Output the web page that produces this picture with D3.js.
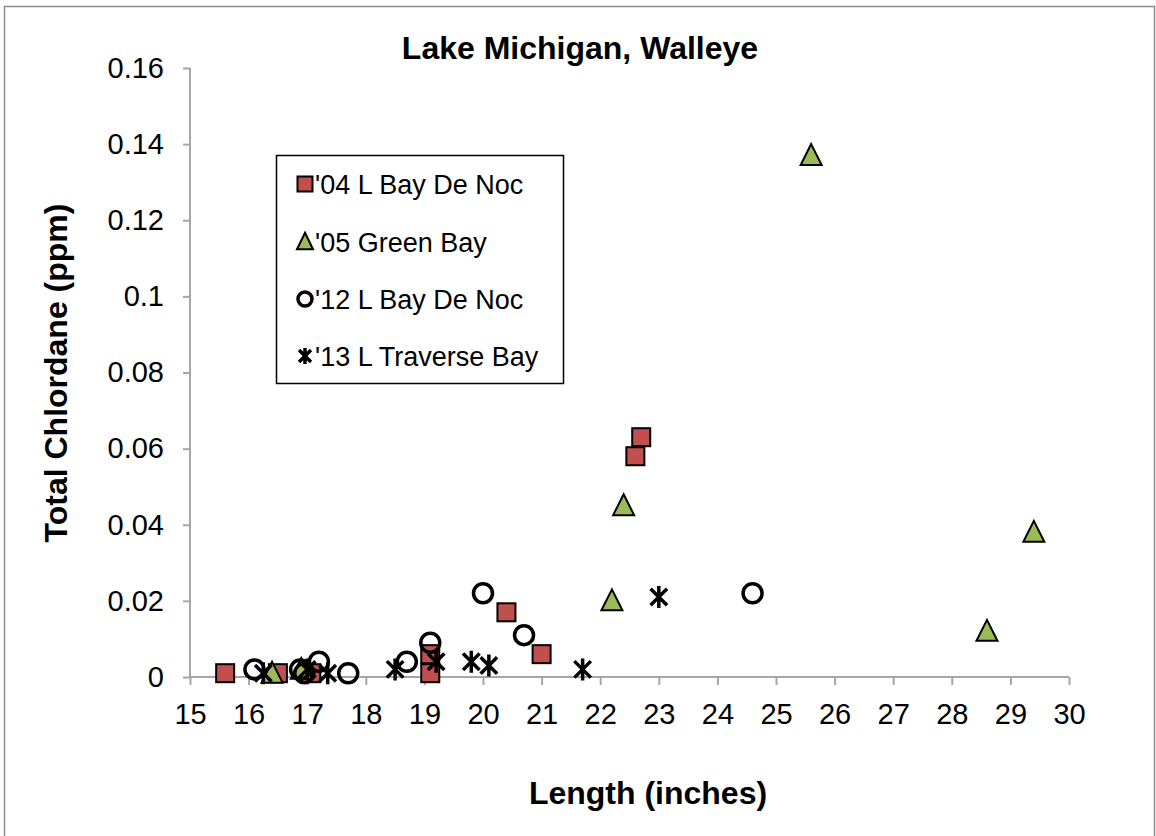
<!DOCTYPE html>
<html><head><meta charset="utf-8">
<script src="https://cdn.jsdelivr.net/npm/d3@7"></script>
<style>body{margin:0;background:#fff}svg{display:block;font-family:"Liberation Sans",Arial,sans-serif}</style>
</head><body><svg id="c" width="1156" height="836"></svg>
<script>
const seriesNames = ["'04 L Bay De Noc","'05 Green Bay","'12 L Bay De Noc","'13 L Traverse Bay"];
const bdn04X = [15.6, 16.5, 17.07, 19.1, 19.1, 20.4, 21.0, 22.6, 22.7];
const bdn04Y = [0.001, 0.001, 0.001, 0.001, 0.006, 0.017, 0.006, 0.058, 0.063];
const gb05X = [16.4, 16.9, 22.2, 22.4, 25.6, 28.6, 29.4];
const gb05Y = [0.001, 0.002, 0.020, 0.045, 0.137, 0.012, 0.038];
const bdn12X = [16.1, 16.88, 16.95, 17.2, 17.7, 18.7, 19.1, 20.0, 20.7, 24.6];
const bdn12Y = [0.002, 0.002, 0.001, 0.004, 0.001, 0.004, 0.009, 0.022, 0.011, 0.022];
const ltb13X = [16.25, 17.0, 17.35, 18.5, 19.2, 19.8, 20.1, 21.7, 23.0];
const ltb13Y = [0.001, 0.002, 0.001, 0.002, 0.004, 0.004, 0.003, 0.002, 0.021];
const xTicks = d3.range(15, 31, 1);
const yTicks = [0, 0.02, 0.04, 0.06, 0.08, 0.1, 0.12, 0.14, 0.16];
const yTickLabels = ["0","0.02","0.04","0.06","0.08","0.1","0.12","0.14","0.16"];

const svg = d3.select("#c");
const x = d3.scaleLinear().domain([15, 30]).range([190, 1069]);
const y = d3.scaleLinear().domain([0, 0.16]).range([677, 68]);
const axisColor = "#a6a6a6";

svg.append("rect").attr("x",4.5).attr("y",6.5).attr("width",1150).attr("height",840)
  .attr("fill","#fff").attr("stroke","#8c8c8c").attr("stroke-width",1.5);

const gx = svg.append("g").attr("transform","translate(0,677)")
  .call(d3.axisBottom(x).tickValues(xTicks).tickSize(8).tickPadding(18).tickFormat(d3.format("d")));
const gy = svg.append("g").attr("transform","translate(190,0)")
  .call(d3.axisLeft(y).tickValues(yTicks).tickSize(7).tickPadding(19).tickFormat((d,i)=>yTickLabels[i]));
[gx, gy].forEach(g => {
  g.select(".domain").attr("stroke", axisColor).attr("stroke-width", 2);
  g.selectAll(".tick line").attr("stroke", axisColor).attr("stroke-width", 2);
  g.selectAll(".tick text").attr("fill","#000").attr("font-size", 29).attr("font-family","Liberation Sans, Arial, sans-serif");
});
gy.select(".domain").attr("d","M0,68V677");
gx.select(".domain").attr("d","M190,0H1069");

svg.append("text").attr("x",580).attr("y",59).attr("text-anchor","middle")
  .attr("font-size",32).attr("font-weight","bold").text("Lake Michigan, Walleye");
svg.append("text").attr("transform","translate(67,373) rotate(-90)").attr("text-anchor","middle")
  .attr("font-size",32).attr("font-weight","bold").text("Total Chlordane (ppm)");
svg.append("text").attr("x",648).attr("y",804).attr("text-anchor","middle")
  .attr("font-size",32).attr("font-weight","bold").text("Length (inches)");

function drawMarker(g, type, cx, cy, s) {
  if (type === "square") {
    g.append("rect").attr("x",cx-s/2).attr("y",cy-s/2).attr("width",s).attr("height",s)
      .attr("fill","#c0504d").attr("stroke","#000").attr("stroke-width",2);
  } else if (type === "triangle") {
    const h = s*0.9;
    g.append("path").attr("d",`M${cx},${cy-h/2-2}L${cx+s/2},${cy+h/2}L${cx-s/2},${cy+h/2}Z`)
      .attr("fill","#9bbb59").attr("stroke","#000").attr("stroke-width",2).attr("stroke-linejoin","miter");
  } else if (type === "circle") {
    g.append("circle").attr("cx",cx).attr("cy",cy).attr("r",s/2-1)
      .attr("fill","none").attr("stroke","#000").attr("stroke-width",3.5);
  } else {
    const r = s/2;
    const d = r*0.75;
    g.append("path").attr("d",`M${cx-d},${cy-d}L${cx+d},${cy+d}M${cx+d},${cy-d}L${cx-d},${cy+d}M${cx},${cy-r}L${cx},${cy+r}`)
      .attr("fill","none").attr("stroke","#000").attr("stroke-width",3.5);
  }
}

const series = [
  {type:"square", xs:bdn04X, ys:bdn04Y, s:18},
  {type:"triangle", xs:gb05X, ys:gb05Y, s:21},
  {type:"circle", xs:bdn12X, ys:bdn12Y, s:21},
  {type:"star", xs:ltb13X, ys:ltb13Y, s:22}
];
const pts = svg.append("g");
series.forEach(sr => {
  sr.xs.forEach((v,i) => drawMarker(pts, sr.type, x(v), y(sr.ys[i]), sr.s));
});

// legend
const lg = svg.append("g");
lg.append("rect").attr("x",276.5).attr("y",155.5).attr("width",287).attr("height",228)
  .attr("fill","#fff").attr("stroke","#000").attr("stroke-width",1.5);
const legY = [184, 242, 299, 356];
series.forEach((sr,i) => {
  drawMarker(lg, sr.type, 305, legY[i], sr.type==="square"?15:(sr.type==="star"?16:16));
  lg.append("text").attr("x",315).attr("y",legY[i]+10).attr("font-size",27).text(seriesNames[i]);
});
</script></body></html>
